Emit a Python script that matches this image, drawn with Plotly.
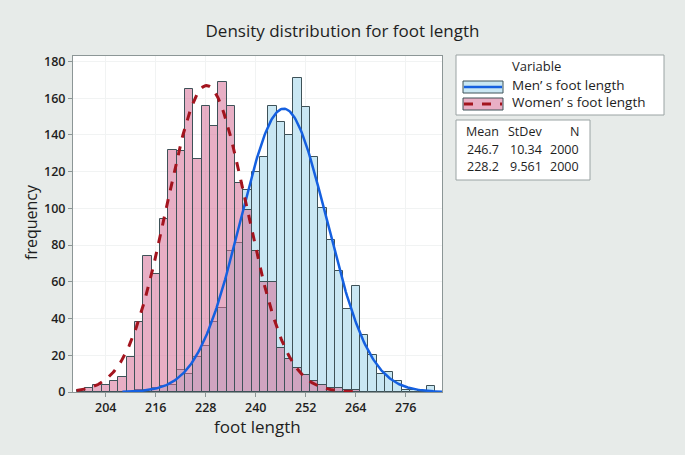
import numpy as np
import plotly.graph_objects as go

# histogram bins (width 2, centred on even values), counts
men_x = [212, 214, 216, 218, 220, 222, 224, 226, 228, 230, 232, 234, 236, 238, 240, 242, 244, 246,
         248, 250, 252, 254, 256, 258, 260, 262, 264, 266, 268, 270, 272, 274, 276, 278, 280, 282]
men_counts = [1, 1, 2, 3, 4, 12, 10, 19, 25, 38, 46, 77, 81, 110, 120, 128, 156, 147,
              140, 171, 155, 128, 100, 83, 66, 45, 58, 31, 20, 10, 11, 6, 1, 1, 0, 3]

women_x = [198, 200, 202, 204, 206, 208, 210, 212, 214, 216, 218, 220, 222, 224, 226, 228, 230,
           232, 234, 236, 238, 240, 242, 244, 246, 248, 250, 252, 254, 256, 258, 260, 262, 264]
women_counts = [1, 2, 4, 4, 6, 8, 19, 38, 74, 64, 94, 132, 131, 165, 127, 156, 145,
                169, 156, 114, 99, 77, 60, 60, 24, 18, 13, 9, 6, 4, 2, 2, 1, 1]

# fitted normal stats shown in the table
names = ["Men’ s foot length", "Women’ s foot length"]
means = [246.7, 228.2]
stdevs = [10.34, 9.561]
ns = [2000, 2000]
bin_width = 2
fit_ranges = [(208, 284.7), (197, 264)]

x_ticks = [204, 216, 228, 240, 252, 264, 276]
y_ticks = [0, 20, 40, 60, 80, 100, 120, 140, 160, 180]

BLUE_FILL = "#c9e7f3"
PINK_FILL = "rgba(214,110,150,0.55)"
EDGE = "#3e5258"
FONT = "Open Sans"

# plot area in pixels, used for placing the legend boxes
L, R, T, B = 73, 442, 56, 392


def px(x):
    return (x - L) / (R - L)


def py(y):
    return (B - y) / (B - T)


def fit_curve(i):
    xs = np.linspace(fit_ranges[i][0], fit_ranges[i][1], 300)
    ys = ns[i] * bin_width * np.exp(-0.5 * ((xs - means[i]) / stdevs[i]) ** 2) / (stdevs[i] * np.sqrt(2 * np.pi))
    return xs, ys


def note(text, x, y, size, xanchor="center", **kw):
    fig.add_annotation(text=text, x=px(x), y=py(y), xref="paper", yref="paper",
                       xanchor=xanchor, yanchor="middle", showarrow=False,
                       font=dict(size=size), **kw)


fig = go.Figure()

fig.add_trace(go.Bar(x=men_x, y=men_counts, width=bin_width,
                     marker=dict(color=BLUE_FILL, line=dict(color=EDGE, width=1))))
fig.add_trace(go.Bar(x=women_x, y=women_counts, width=bin_width,
                     marker=dict(color=PINK_FILL, line=dict(color=EDGE, width=1))))

mx, my = fit_curve(0)
fig.add_trace(go.Scatter(x=mx, y=my, mode="lines", line=dict(color="#1560e0", width=2.5)))
wx, wy = fit_curve(1)
fig.add_trace(go.Scatter(x=wx, y=wy, mode="lines", line=dict(color="#a3141e", width=3, dash="dash")))

fig.update_layout(
    width=685, height=455,
    margin=dict(l=L, r=685 - R, t=T, b=455 - B),
    paper_bgcolor="#e7ebe9", plot_bgcolor="white",
    barmode="overlay", bargap=0, showlegend=False,
    font=dict(family=FONT, color="#1e1e1e"),
    title=dict(text="Density distribution for foot length", x=0.5, xanchor="center",
               y=1 - 31 / 455, yanchor="middle", font=dict(size=17, color="#1e1e1e")),
)

fig.update_xaxes(range=[196.14, 284.7], tickvals=x_ticks, ticks="outside", ticklen=4,
                 tickcolor="#8c9696", showline=True, mirror=True, linecolor="#8c9696",
                 showgrid=True, gridcolor="#f1f3f3", zeroline=False,
                 tickfont=dict(size=12.5, weight=600))
fig.update_yaxes(range=[0, 183], tickvals=y_ticks, ticks="outside", ticklen=4,
                 tickcolor="#8c9696", showline=True, mirror=True, linecolor="#8c9696",
                 showgrid=True, gridcolor="#f1f3f3", zeroline=False,
                 tickfont=dict(size=12.5, weight=600))

# axis titles
note("foot length", (L + R) / 2, 426, 17)
note("frequency", 31, 222, 16, textangle=-90)

# legend box
fig.add_shape(type="rect", xref="paper", yref="paper", x0=px(456), x1=px(664), y0=py(115), y1=py(55),
              line=dict(color="#9aa3a3", width=1), fillcolor="white")
note("Variable", 510, 66, 13, xanchor="left")
sw_y = [87, 104]
sw_fill = [BLUE_FILL, PINK_FILL]
sw_line = [dict(color="#1560e0", width=2.5), dict(color="#a3141e", width=3, dash="dash")]
for i in range(2):
    fig.add_shape(type="rect", xref="paper", yref="paper", x0=px(463), x1=px(503),
                  y0=py(sw_y[i] + 6), y1=py(sw_y[i] - 6),
                  line=dict(color=EDGE, width=1), fillcolor=sw_fill[i])
    fig.add_shape(type="line", xref="paper", yref="paper", x0=px(464), x1=px(502),
                  y0=py(sw_y[i]), y1=py(sw_y[i]), line=sw_line[i])
    note(names[i], 510, sw_y[i] - 2, 13.5, xanchor="left")

# stats table
fig.add_shape(type="rect", xref="paper", yref="paper", x0=px(456), x1=px(590), y0=py(180), y1=py(120),
              line=dict(color="#9aa3a3", width=1), fillcolor="white")
col_right = [501, 544, 581]
headers = ["Mean", "StDev", "N"]
rows = [headers] + [[f"{means[i]:g}", f"{stdevs[i]:g}", str(ns[i])] for i in range(2)]
row_y = [131, 149, 166.5]
for r, row in enumerate(rows):
    for c, txt in enumerate(row):
        note(txt, col_right[c], row_y[r], 12.5, xanchor="right")

fig.write_html("out.html", config={"displayModeBar": False},
               post_script="document.body.style.margin='0';")
